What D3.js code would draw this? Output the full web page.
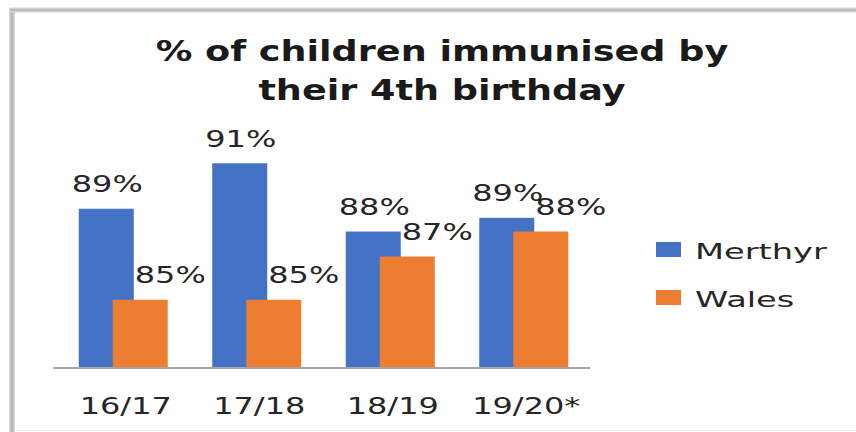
<!DOCTYPE html>
<html>
<head>
<meta charset="utf-8">
<script src="https://cdn.jsdelivr.net/npm/d3@7"></script>
<style>
  html, body { margin: 0; padding: 0; background: #fff; }
  svg { display: block; }
</style>
</head>
<body>
<svg id="chart" width="856" height="432"></svg>
<script>
const categories = ["16/17", "17/18", "18/19", "19/20*"];
const merthyr = [89, 91, 88, 88.6];
const wales = [85, 85, 86.9, 88];
const seriesNames = ["Merthyr", "Wales"];
const titleLines = ["% of children immunised by", "their 4th birthday"];

const colors = { Merthyr: "#4472C4", Wales: "#ED7D31" };
const svg = d3.select("#chart");
const W = 856, H = 432;

// background and frame
svg.append("rect").attr("width", W).attr("height", H).attr("fill", "#fff");
svg.append("line").attr("x1", 12).attr("x2", 12).attr("y1", 9).attr("y2", H)
  .attr("stroke", "#d6d6d6").attr("stroke-width", 6);
svg.append("line").attr("x1", 12).attr("x2", 12).attr("y1", 9).attr("y2", H)
  .attr("stroke", "#b8b8b8").attr("stroke-width", 3);
svg.append("line").attr("x1", 9).attr("x2", W).attr("y1", 10).attr("y2", 10)
  .attr("stroke", "#d6d6d6").attr("stroke-width", 5);
svg.append("line").attr("x1", 10).attr("x2", W).attr("y1", 10).attr("y2", 10)
  .attr("stroke", "#bcbcbc").attr("stroke-width", 2.5);
svg.append("line").attr("x1", 14).attr("x2", W).attr("y1", 430.5).attr("y2", 430.5)
  .attr("stroke", "#ececec").attr("stroke-width", 1);

// stretch helper: the reference text is horizontally stretched
function stretch(sel, k) {
  sel.each(function () {
    const w = this.getComputedTextLength();
    d3.select(this).attr("textLength", w * k).attr("lengthAdjust", "spacingAndGlyphs");
  });
}

// scales
const x = d3.scaleBand().domain(categories).range([56.5, 590.5]).padding(0);
const y = d3.scaleLinear().domain([82, 92]).range([368, 140.5]);
const barW = 55;
const offsets = { Merthyr: -44.5, Wales: -10.5 };
const labelDx = { Merthyr: 1, Wales: 30 };

// title
svg.append("g").selectAll("text").data(titleLines).join("text")
  .attr("x", 442).attr("y", (d, i) => 61 + i * 39)
  .attr("text-anchor", "middle")
  .attr("font-family", "DejaVu Sans, sans-serif")
  .attr("font-weight", "bold").attr("font-size", 27.5)
  .attr("fill", "#1a1a1a")
  .text(d => d)
  .call(stretch, 1.33);

// bars
const series = [
  { name: "Merthyr", values: merthyr },
  { name: "Wales", values: wales }
];
const barsG = svg.append("g");
series.forEach(s => {
  barsG.append("g").selectAll("rect").data(s.values).join("rect")
    .attr("x", (d, i) => x(categories[i]) + x.bandwidth() / 2 + offsets[s.name])
    .attr("width", barW)
    .attr("y", d => y(d))
    .attr("height", d => y(82) - y(d))
    .attr("fill", colors[s.name]);
});

// axis
const axis = d3.axisBottom(x).tickSize(0).tickSizeOuter(0);
const axG = svg.append("g").attr("transform", "translate(0,368)").call(axis);
axG.select(".domain").attr("stroke", "#a6a6a6").attr("stroke-width", 2)
  .attr("d", "M53,0H590");
axG.selectAll(".tick text")
  .attr("y", 46).attr("dy", 0).attr("x", 2.5)
  .attr("font-family", "DejaVu Sans, sans-serif")
  .attr("font-size", 23).attr("fill", "#262626")
  .call(stretch, 1.39);

// data labels
const fmt = d3.format(".0f");
series.forEach(s => {
  svg.append("g").selectAll("text").data(s.values).join("text")
    .attr("x", (d, i) => x(categories[i]) + x.bandwidth() / 2 + offsets[s.name] + barW / 2 + labelDx[s.name])
    .attr("y", d => y(d) - 16.5)
    .attr("text-anchor", "middle")
    .attr("font-family", "DejaVu Sans, sans-serif")
    .attr("font-size", 23).attr("fill", "#262626")
    .text(d => fmt(d) + "%")
    .call(stretch, 1.39);
});

// legend
const leg = svg.append("g");
seriesNames.forEach((n, i) => {
  leg.append("rect").attr("x", 656).attr("y", 242 + i * 48)
    .attr("width", 25).attr("height", 15).attr("fill", colors[n]);
  leg.append("text").attr("x", 695).attr("y", 259 + i * 48)
    .attr("font-family", "DejaVu Sans, sans-serif")
    .attr("font-size", 22).attr("fill", "#262626")
    .text(n)
    .call(stretch, 1.53);
});
</script>
</body>
</html>
